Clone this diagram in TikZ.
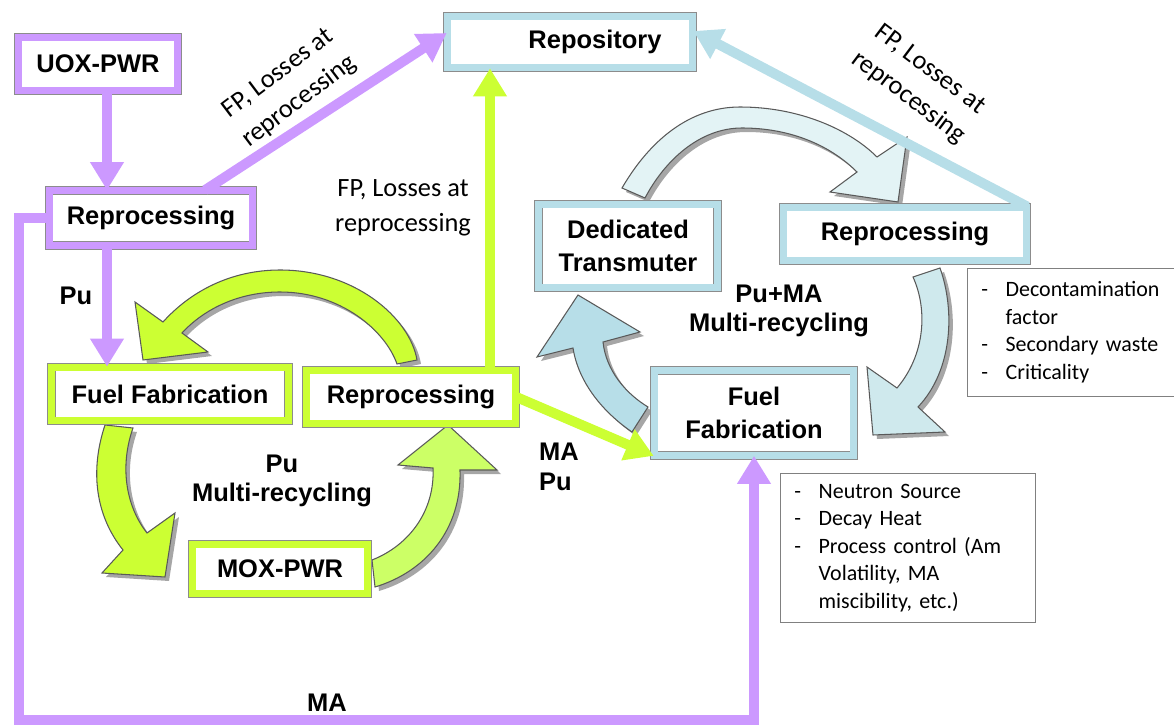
\documentclass[tikz,border=0pt]{standalone}
\usepackage{fontspec}
\setmainfont{Liberation Sans}
\newfontfamily\notefont{Carlito}
\usetikzlibrary{arrows.meta}

\definecolor{limeG}{HTML}{CCFF33}
\definecolor{limeL}{HTML}{CCFF66}
\definecolor{lilac}{HTML}{CC99FF}
\definecolor{aqua}{HTML}{B7DEE8}
\definecolor{aquaM}{HTML}{CFE9ED}
\definecolor{aquaL}{HTML}{E3F3F5}

% curved block arrow with its shadow
\newcommand{\cyclearrow}[2]{%
  \fill[black!35, shift={(4,4)}] #2;
  \filldraw[fill=#1, draw=black!65, line width=0.6pt] #2;}

\begin{document}
\begin{tikzpicture}[x=0.02cm, y=-0.02cm,
  stage/.style={draw=black!45, line width=0.4pt, double distance=0.14cm, fill=white,
    font=\bfseries\fontsize{14.5}{19}\selectfont, align=center, inner sep=0pt},
  pstage/.style={stage, double=lilac},
  gstage/.style={stage, double=limeG},
  bstage/.style={stage, double=aqua},
  flow/.style={line width=0.2cm, -{Triangle[length=0.56cm, width=0.64cm]}},
  pflow/.style={flow, draw=lilac},
  gflow/.style={flow, draw=limeG},
  bflow/.style={flow, draw=aqua},
  lbl/.style={font=\bfseries\fontsize{14.5}{17}\selectfont, align=center},
  fp/.style={font=\notefont\fontsize{15}{20}\selectfont, align=center},
  note/.style={draw=black!50, line width=0.5pt, fill=white, anchor=north west,
    font=\notefont\fontsize{12.5}{15.6}\selectfont, inner xsep=0.28cm}]
  \useasboundingbox (0,0) rectangle (1174,726);

  % Pu multi-recycling (green loop)
  \cyclearrow{limeG}{(417,360) .. controls (410,318) and (355,270) .. (280,270)
    .. controls (230,270) and (190,292) .. (163,322) -- (135,302) -- (143,360)
    -- (208,352) -- (182,333) .. controls (205,308) and (240,292) .. (280,292)
    .. controls (340,292) and (385,330) .. (397,364) -- cycle}
  \cyclearrow{limeG}{(105,425) .. controls (90,470) and (95,515) .. (123,550)
    -- (102,573) -- (165,577) -- (175,513) -- (147,533)
    .. controls (125,505) and (120,465) .. (133,428) -- cycle}
  \cyclearrow{limeL}{(375,587) .. controls (425,572) and (462,530) .. (460,470)
    -- (497,470) -- (448,425) -- (398,465) -- (433,468)
    .. controls (435,510) and (410,545) .. (372,560) -- cycle}

  % Pu+MA multi-recycling (blue loop)
  \cyclearrow{aquaL}{(622,188) .. controls (650,140) and (690,107) .. (740,107)
    .. controls (800,107) and (850,130) .. (877,157) -- (907,137) -- (898,202)
    -- (830,192) -- (857,172) .. controls (830,145) and (790,128) .. (742,128)
    .. controls (700,128) and (665,160) .. (645,198) -- cycle}
  \cyclearrow{aquaM}{(940,268) .. controls (955,310) and (953,370) .. (918,407)
    -- (945,432) -- (873,435) -- (867,367) -- (897,388)
    .. controls (925,355) and (928,310) .. (913,277) -- cycle}
  \cyclearrow{aqua}{(632,432) .. controls (600,410) and (578,380) .. (573,348)
    -- (537,357) -- (578,295) -- (640,332) -- (603,342)
    .. controls (606,370) and (625,393) .. (648,407) -- cycle}

  % stages
  \node[pstage, minimum width=3.2cm, minimum height=1.08cm] (uox) at (98,64) {UOX-PWR};
  \node[pstage, minimum width=4.08cm, minimum height=1.1cm] (rpP) at (151,218) {Reprocessing};
  \node[bstage, minimum width=4.92cm, minimum height=1.04cm] (repo) at (570,42) {\hspace{1cm}Repository};
  \node[gstage, minimum width=4.74cm, minimum height=1.08cm] (ffG) at (170,394) {Fuel Fabrication};
  \node[gstage, minimum width=4.2cm, minimum height=1.08cm] (rpG) at (411,397) {Reprocessing};
  \node[gstage, minimum width=3.52cm, minimum height=1.0cm] (mox) at (280,569) {MOX-PWR};
  \node[bstage, minimum width=3.58cm, minimum height=1.68cm] (trans) at (628,246) {Dedicated\\Transmuter};
  \node[bstage, minimum width=4.88cm, minimum height=1.08cm] (rpB) at (905,234) {Reprocessing};
  \node[bstage, minimum width=4.0cm, minimum height=1.7cm] (ffB) at (754,413) {Fuel\\Fabrication};

  % flows
  \coordinate (pcol) at (107,0);
  \coordinate (gcol) at (490,0);
  \draw[pflow] (uox.south -| pcol) -- (rpP.north -| pcol);
  \draw[pflow] (rpP.south -| pcol) -- (ffG.north -| pcol);
  \draw[pflow] ([xshift=1.08cm]rpP.north) -- ([yshift=0.18cm]repo.west);
  \draw[pflow] (rpP.west) -| (19,720) -| (ffB.south);
  \draw[gflow] (rpG.north -| gcol) -- (repo.south -| gcol);
  \draw[gflow] (rpG.east) -- (ffB.south west);
  \draw[bflow] (rpB.north east) -- ([yshift=0.22cm]repo.east);

  % labels
  \node[lbl] (puP) at (76,296) {Pu};
  \node[lbl] (puG) at (282,481) {Pu\\Multi-recycling};
  \node[lbl] (puB) at (779,311) {Pu+MA\\Multi-recycling};
  \node[lbl, align=left, anchor=west] (maPu) at (533,467) {MA\\Pu};
  \node[lbl] (maL) at (327,703) {MA};
  \node[fp] (fpG) at (403,208) {FP, Losses at\\reprocessing};
  \node[fp, rotate=37] (fpP) at (289,88) {FP, Losses at\\reprocessing};
  \node[fp, rotate=-37] (fpB) at (919,84) {FP, Losses at\\reprocessing};

  % notes
  \node[note, text width=3.6cm, minimum height=2.56cm] (dnote) at (967,268)
    {\begin{tabular}{@{}l@{\hspace{0.35cm}}l@{}}
      - & Decontamination\\ & factor\\ - & Secondary waste\\ - & Criticality
    \end{tabular}};
  \node[note, text width=4.54cm, minimum height=2.98cm] (fnote) at (780,473)
    {\begin{tabular}{@{}l@{\hspace{0.35cm}}l@{}}
      - & Neutron Source\\ - & Decay Heat\\ - & Process control (Am\\
        & Volatility, MA\\ & miscibility, etc.)
    \end{tabular}};
\end{tikzpicture}
\end{document}
